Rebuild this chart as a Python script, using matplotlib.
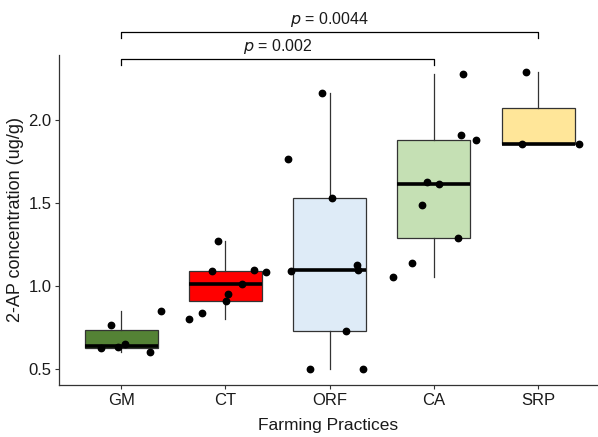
import matplotlib
matplotlib.use("Agg")
import matplotlib.pyplot as plt
import numpy as np

plt.rcParams['font.family'] = ['Liberation Sans', 'DejaVu Sans']

categories = ["GM", "CT", "ORF", "CA", "SRP"]
box_colors = ["#548235", "#FF0000", "#DEEBF7", "#C5E0B4", "#FFE699"]

# measured values (ug/g) per farming practice
gm_vals = [0.767, 0.628, 0.632, 0.648, 0.604, 0.85]
ct_vals = [1.27, 1.09, 1.095, 1.085, 1.012, 0.95, 0.913, 0.84, 0.80]
orf_vals = [2.165, 1.765, 1.53, 1.09, 1.125, 1.10, 0.73, 0.50, 0.50]
ca_vals = [2.28, 1.91, 1.88, 1.63, 1.615, 1.49, 1.29, 1.14, 1.054]
srp_vals = [2.29, 1.855, 1.86]

# horizontal jitter offsets (category units)
gm_jit = [-0.093, -0.189, -0.026, 0.041, 0.281, 0.387]
ct_jit = [-0.067, -0.125, 0.278, 0.393, 0.163, 0.029, 0.01, -0.22, -0.345]
orf_jit = [-0.077, -0.403, 0.019, -0.374, 0.259, 0.269, 0.153, -0.192, 0.317]
ca_jit = [0.278, 0.259, 0.403, -0.067, 0.048, -0.115, 0.23, -0.211, -0.393]
srp_jit = [-0.112, -0.151, 0.396]

# significance comparisons: (group a, group b, label)
comparisons = [("GM", "CA", "0.002"), ("GM", "SRP", "0.0044")]
bracket_y = [2.370, 2.533]

yticks = [0.5, 1.0, 1.5, 2.0]

data = [gm_vals, ct_vals, orf_vals, ca_vals, srp_vals]
jits = [gm_jit, ct_jit, orf_jit, ca_jit, srp_jit]

fig = plt.figure(figsize=(5.98, 4.37), dpi=100)
W, H = 598, 437
left, right, top, bottom = 58.6, 598, 55, 385
ax = fig.add_axes([left / W, 1 - bottom / H, (right - left) / W, (bottom - top) / H])

positions = np.arange(1, len(categories) + 1)
bp = ax.boxplot(data, positions=positions, widths=0.7, patch_artist=True,
                showfliers=False, whis=1.5,
                boxprops=dict(edgecolor="#333333", linewidth=0.9),
                whiskerprops=dict(color="#333333", linewidth=0.9),
                capprops=dict(linewidth=0),
                medianprops=dict(color="black", linewidth=2.6, solid_capstyle="butt"))
for patch, c in zip(bp['boxes'], box_colors):
    patch.set_facecolor(c)
for cap in bp['caps']:
    cap.set_visible(False)

for i, (vals, jit) in enumerate(zip(data, jits)):
    xs = positions[i] + np.array(jit)
    ax.plot(xs, vals, 'o', color='black', markersize=4.6, zorder=5, clip_on=False)

ax.set_xlim(0.4, 0.4 + (right - left) / 104.25)
ax.set_ylim(0.4035, 2.394)
ax.set_xticks(positions)
ax.set_xticklabels(categories)
ax.set_yticks(yticks)
ax.set_yticklabels([f"{v:.1f}" for v in yticks])

for s in ['top', 'right']:
    ax.spines[s].set_visible(False)
for s in ['left', 'bottom']:
    ax.spines[s].set_color('#333333')
    ax.spines[s].set_linewidth(0.9)
ax.tick_params(axis='both', colors='#333333', length=3, width=0.8, labelsize=12,
               labelcolor='#1a1a1a')
ax.tick_params(axis='x', pad=3)
ax.tick_params(axis='y', pad=2)

ax.set_xlabel("Farming Practices", fontsize=12.5, color='#1a1a1a', labelpad=7)
ax.set_ylabel("2-AP concentration (ug/g)", fontsize=13, color='#1a1a1a', labelpad=3)

idx = {c: i + 1 for i, c in enumerate(categories)}
for (a, b, lab), yb in zip(comparisons, bracket_y):
    xa, xb = idx[a], idx[b]
    tick = 0.036
    ax.plot([xa, xa, xb, xb], [yb - tick, yb, yb, yb - tick], color='black',
            linewidth=0.9, clip_on=False)
    ax.text((xa + xb) / 2, yb + 0.05, r"$p$ = " + lab, ha='center', va='baseline',
            fontsize=11.5, color='#1a1a1a', clip_on=False)

fig.savefig("out.png", dpi=100)
